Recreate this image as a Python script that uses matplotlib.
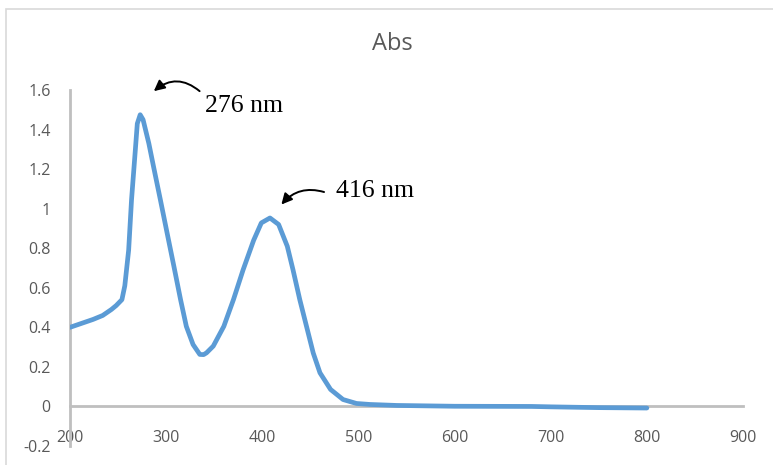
import matplotlib.pyplot as plt
from matplotlib.patches import Rectangle

# wavelength (nm) and absorbance
wl = [200, 212, 224, 234, 243, 248, 254, 257, 261, 264, 268, 270, 273, 276,
      282, 287, 294, 301, 308, 315, 321, 328, 335, 339, 342, 349, 360, 370,
      380, 391, 399, 408, 417, 426, 432, 439, 446, 453, 460, 471, 484, 498,
      512, 540, 600, 680, 700, 750, 800]
absb = [0.40, 0.42, 0.44, 0.46, 0.49, 0.51, 0.54, 0.61, 0.79, 1.045, 1.30,
        1.43, 1.475, 1.45, 1.33, 1.21, 1.045, 0.877, 0.71, 0.54, 0.405,
        0.313, 0.263, 0.262, 0.271, 0.305, 0.405, 0.54, 0.69, 0.84, 0.928,
        0.953, 0.92, 0.81, 0.69, 0.54, 0.405, 0.27, 0.17, 0.086, 0.035,
        0.015, 0.01, 0.005, 0.001, 0.0, -0.002, -0.006, -0.008]

xticks = [200, 300, 400, 500, 600, 700, 800, 900]
yticks = [-0.2, 0, 0.2, 0.4, 0.6, 0.8, 1, 1.2, 1.4, 1.6]
ylabels = ["-0.2", "0", "0.2", "0.4", "0.6", "0.8", "1", "1.2", "1.4", "1.6"]

plt.rcParams['font.family'] = ['Open Sans', 'DejaVu Sans']

fig = plt.figure(figsize=(7.73, 4.65), dpi=100)
fig.patches.append(Rectangle((6 / 773, -0.1), 1.2, 1 - 9 / 465 + 0.1,
                             transform=fig.transFigure, fill=False,
                             edgecolor='#D9D9D9', linewidth=1.2))

ax = fig.add_axes([70 / 773, 19 / 465, 673 / 773, 356 / 465])
ax.plot(wl, absb, color='#5B9BD5', linewidth=3.4, solid_capstyle='round',
        solid_joinstyle='round', zorder=3)

ax.set_xlim(200, 900)
ax.set_ylim(-0.2, 1.6)
ax.set_xticks(xticks)
ax.set_yticks(yticks)
ax.set_yticklabels(ylabels)

for s in ['top', 'right']:
    ax.spines[s].set_visible(False)
ax.spines['bottom'].set_position(('data', 0))
ax.spines['bottom'].set_color('#BFBFBF')
ax.spines['left'].set_color('#BFBFBF')
ax.spines['bottom'].set_linewidth(2)
ax.spines['left'].set_linewidth(2)
ax.spines['bottom'].set_zorder(1)

ax.tick_params(axis='both', length=0, labelsize=11.5, labelcolor='#595959')
ax.tick_params(axis='x', pad=17)
ax.tick_params(axis='y', pad=14)
ax.patch.set_alpha(0)

fig.text(0.508, 0.905, 'Abs', ha='center', va='center', fontsize=17,
         color='#595959')

ax.annotate('', xy=(285, 1.585), xytext=(337, 1.585),
            arrowprops=dict(arrowstyle='-|>', color='black', lw=1.4,
                            mutation_scale=16,
                            connectionstyle='arc3,rad=0.45'))
ax.text(340, 1.52, '276 nm', fontsize=18.5, family='Liberation Serif',
        va='center', ha='left')

ax.annotate('', xy=(418, 1.01), xytext=(467, 1.08),
            arrowprops=dict(arrowstyle='-|>', color='black', lw=1.4,
                            mutation_scale=16,
                            connectionstyle='arc3,rad=0.35'))
ax.text(477, 1.09, '416 nm', fontsize=18.5, family='Liberation Serif',
        va='center', ha='left')

fig.savefig('out.png', dpi=100)
